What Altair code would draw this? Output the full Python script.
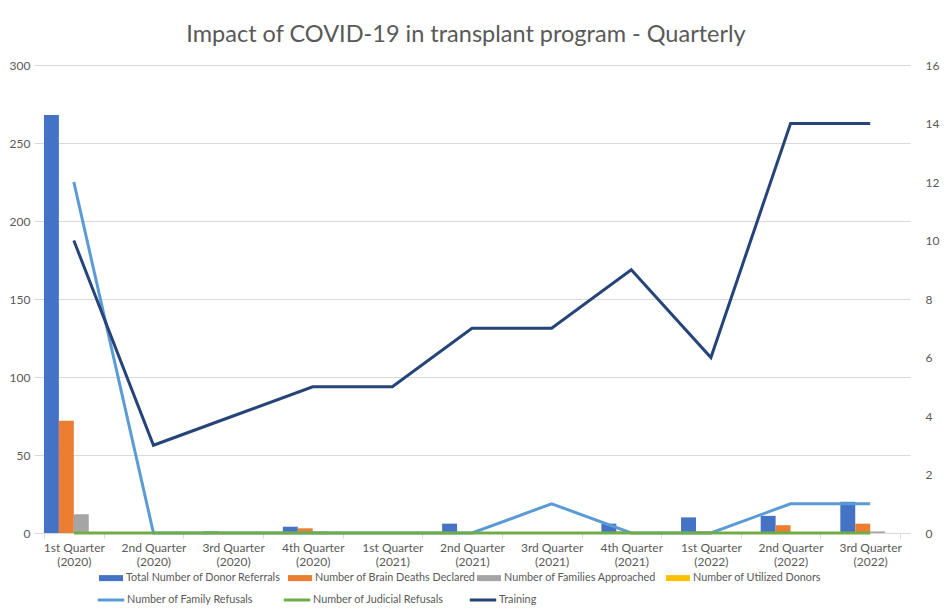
import altair as alt
import pandas as pd

quarters = [
    "1st Quarter (2020)", "2nd Quarter (2020)", "3rd Quarter (2020)", "4th Quarter (2020)",
    "1st Quarter (2021)", "2nd Quarter (2021)", "3rd Quarter (2021)", "4th Quarter (2021)",
    "1st Quarter (2022)", "2nd Quarter (2022)", "3rd Quarter (2022)",
]
donor_referrals = [268, 0, 1, 4, 0, 6, 0, 6, 10, 11, 20]
brain_deaths = [72, 0, 0, 3, 0, 0, 0, 1, 1, 5, 6]
families_approached = [12, 0, 0, 1, 0, 0, 0, 0, 0, 0, 1]
utilized_donors = [0, 0, 0, 0, 0, 0, 0, 0, 0, 0, 0]
family_refusals = [12, 0, 0, 0, 0, 0, 1, 0, 0, 1, 1]
judicial_refusals = [0, 0, 0, 0, 0, 0, 0, 0, 0, 0, 0]
training = [10, 3, 4, 5, 5, 7, 7, 9, 6, 14, 14]

bar_series = {
    "Total Number of Donor Referrals": donor_referrals,
    "Number of Brain Deaths Declared": brain_deaths,
    "Number of Families Approached": families_approached,
    "Number of Utilized Donors": utilized_donors,
}
bar_colors = ["#4472C4", "#ED7D31", "#A5A5A5", "#FFC000"]
line_series = {
    "Number of Family Refusals": family_refusals,
    "Number of Judicial Refusals": judicial_refusals,
    "Training": training,
}
line_colors = ["#5B9BD5", "#70AD47", "#264478"]

bar_rows = []
for si, (name, vals) in enumerate(bar_series.items()):
    for q, v in zip(quarters, vals):
        bar_rows.append({"quarter": q, "series": name, "value": v, "order": si})
bar_df = pd.DataFrame(bar_rows)

line_rows = []
for si, (name, vals) in enumerate(line_series.items()):
    for q, v in zip(quarters, vals):
        line_rows.append({"quarter": q, "series": name, "value": v, "order": si})
line_df = pd.DataFrame(line_rows)

FONT = "Lato"
TXT = "#595959"
GRID = "#D9D9D9"

x_enc = alt.X(
    "quarter:N",
    sort=quarters,
    title=None,
    scale=alt.Scale(paddingInner=0.25, paddingOuter=0.125),
    axis=alt.Axis(
        labelAngle=0,
        labelExpr="[slice(datum.label,0,11), slice(datum.label,12)]",
        labelColor=TXT,
        labelFontSize=12,
        labelFont=FONT,
        labelPadding=4,
        labelLineHeight=14,
        tickBand="extent",
        tickColor=GRID,
        tickSize=5,
        domainColor=GRID,
        grid=False,
    ),
)

bars = alt.Chart(bar_df).mark_bar().encode(
    x=x_enc,
    xOffset=alt.XOffset("series:N", sort=list(bar_series.keys()),
                        scale=alt.Scale(paddingInner=0, paddingOuter=0)),
    y=alt.Y(
        "value:Q",
        title=None,
        scale=alt.Scale(domain=[0, 300]),
        axis=alt.Axis(
            values=[0, 50, 100, 150, 200, 250, 300],
            gridColor=GRID,
            domain=False,
            ticks=False,
            labelColor=TXT,
            labelFontSize=12,
            labelFont=FONT,
            labelPadding=4,
        ),
    ),
    color=alt.Color(
        "series:N",
        sort=list(bar_series.keys()),
        scale=alt.Scale(domain=list(bar_series.keys()), range=bar_colors),
        legend=alt.Legend(
            title=None,
            orient="none",
            legendX=65,
            legendY=501,
            direction="horizontal",
            columns=4,
            gridAlign="all",
            columnPadding=1,
            symbolType="M-1,-0.25H1V0.25H-1Z",
            symbolSize=576,
            symbolStrokeWidth=0,
            labelOffset=3,
            labelFontSize=10.8,
            labelFont=FONT,
            labelColor=TXT,
            labelLimit=300,
        ),
    ),
)

lines = alt.Chart(line_df).mark_line(strokeWidth=3).encode(
    x=alt.X("quarter:N", sort=quarters),
    y=alt.Y(
        "value:Q",
        title=None,
        scale=alt.Scale(domain=[0, 16]),
        axis=alt.Axis(
            orient="right",
            values=[0, 2, 4, 6, 8, 10, 12, 14, 16],
            grid=False,
            domain=False,
            ticks=False,
            labelColor=TXT,
            labelFontSize=12,
            labelFont=FONT,
            labelPadding=15,
        ),
    ),
    color=alt.Color(
        "series:N",
        sort=list(line_series.keys()),
        scale=alt.Scale(domain=list(line_series.keys()), range=line_colors),
        legend=alt.Legend(
            title=None,
            orient="none",
            legendX=62,
            legendY=520,
            direction="horizontal",
            columns=4,
            gridAlign="all",
            columnPadding=19,
            symbolType="stroke",
            symbolSize=700,
            symbolStrokeWidth=3,
            labelOffset=1,
            labelFontSize=10.8,
            labelFont=FONT,
            labelColor=TXT,
            labelLimit=300,
        ),
    ),
    order=alt.Order("order:Q"),
    detail="series:N",
)

chart = (
    alt.layer(bars, lines)
    .resolve_scale(y="independent", color="independent")
    .properties(
        width=876,
        height=468,
        autosize=alt.AutoSizeParams(type="none"),
        padding={"left": 26, "top": 57, "right": 32, "bottom": 73},
        title=alt.TitleParams(
            "Impact of COVID-19 in transplant program - Quarterly",
            fontSize=23.5,
            font=FONT,
            fontWeight="normal",
            color=TXT,
            anchor="middle",
            offset=13,
            dx=-6,
        ),
        background="white",
    )
    .configure_view(stroke=None)
)

chart.save("out.html", embed_options={"renderer": "svg", "actions": False})
